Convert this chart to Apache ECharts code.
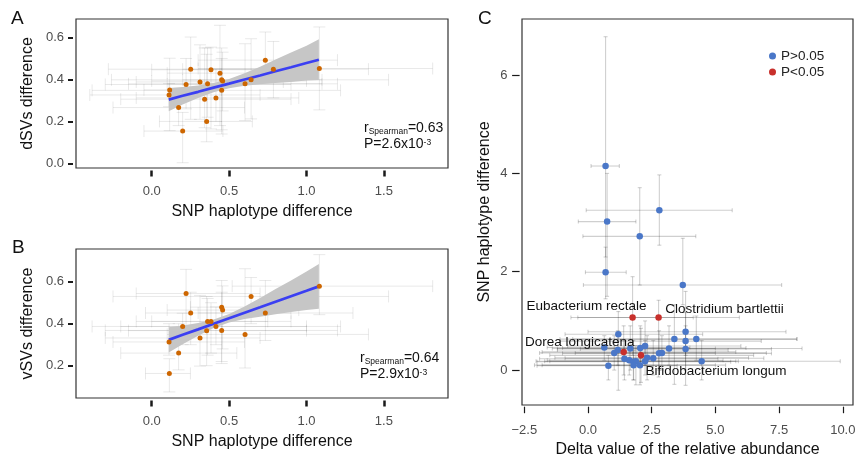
<!DOCTYPE html>
<html>
<head>
<meta charset="utf-8">
<script src="https://cdn.jsdelivr.net/npm/echarts@6.0.0/dist/echarts.min.js"></script>
<style>
html,body{margin:0;padding:0;background:#fff;}
#chart{width:855px;height:456px;}
</style>
</head>
<body>
<div id="chart"></div>
<script>
// ---------------- DATA ----------------
// Panel A : SNP haplotype difference vs dSVs difference
const aX    = [0.116,0.112,0.174,0.200,0.222,0.252,0.312,0.342,0.355,0.361,0.383,0.415,0.441,0.452,0.458,0.452,0.603,0.642,0.734,0.786,1.083];
const aY    = [0.350,0.326,0.266,0.154,0.376,0.449,0.388,0.306,0.200,0.379,0.446,0.312,0.430,0.398,0.393,0.348,0.379,0.398,0.492,0.449,0.452];
const aXLo  = [-0.05,-0.40,-0.25,-0.05,-0.30,-0.28,-0.10,-0.20,0.05,-0.15,0.00,-0.10,0.10,-0.26,0.00,-0.385,0.10,0.20,0.30,0.20,0.30];
const aXHi  = [0.45,0.70,0.60,0.46,0.90,0.75,0.85,0.90,0.65,1.10,0.85,0.95,0.80,1.53,1.00,1.22,1.20,1.10,1.20,1.40,1.815];
const aYLo  = [0.156,0.27,0.18,0.003,0.26,0.21,0.21,0.17,0.103,0.22,0.164,0.20,0.18,0.14,0.25,0.16,0.204,0.212,0.419,0.312,0.255];
const aYHi  = [0.501,0.38,0.35,0.243,0.50,0.602,0.565,0.55,0.52,0.55,0.554,0.45,0.658,0.55,0.53,0.50,0.57,0.594,0.626,0.581,0.650];
// Panel A fitted line and confidence band
const aFitX  = [0.11,0.2,0.3,0.4,0.5,0.6,0.7,0.8,0.9,1.0,1.08];
const aFitY  = [0.304,0.322,0.341,0.361,0.380,0.400,0.419,0.439,0.458,0.478,0.494];
const aBandLo= [0.249,0.280,0.311,0.339,0.358,0.370,0.377,0.383,0.388,0.395,0.397];
const aBandHi= [0.359,0.364,0.371,0.383,0.402,0.430,0.461,0.495,0.528,0.561,0.591];

// Panel B : SNP haplotype difference vs vSVs difference
const bX    = [0.112,0.114,0.174,0.200,0.222,0.252,0.312,0.355,0.361,0.383,0.415,0.452,0.458,0.452,0.603,0.642,0.734,1.083];
const bY    = [0.313,0.163,0.260,0.387,0.544,0.451,0.332,0.367,0.411,0.411,0.387,0.479,0.465,0.368,0.349,0.530,0.451,0.579];
const bXLo  = [-0.25,-0.04,-0.20,-0.385,-0.10,-0.04,-0.30,-0.15,-0.10,0.00,-0.20,0.25,0.10,-0.30,0.10,-0.25,0.30,0.52];
const bXHi  = [0.60,0.25,0.55,1.22,0.70,0.90,0.70,1.00,0.75,0.90,1.00,0.80,0.95,1.20,1.40,1.53,1.30,1.815];
const bYLo  = [0.25,0.075,0.18,0.30,0.352,0.30,0.198,0.20,0.25,0.26,0.30,0.21,0.28,0.22,0.189,0.40,0.32,0.443];
const bYHi  = [0.40,0.233,0.40,0.45,0.659,0.55,0.535,0.53,0.52,0.50,0.48,0.606,0.58,0.55,0.662,0.62,0.606,0.729];
const bFitX  = [0.11,0.2,0.3,0.4,0.5,0.6,0.7,0.8,0.9,1.0,1.08];
const bFitY  = [0.323,0.347,0.373,0.400,0.426,0.452,0.478,0.505,0.531,0.557,0.578];
const bBandLo= [0.263,0.302,0.343,0.380,0.406,0.422,0.433,0.445,0.456,0.465,0.471];
const bBandHi= [0.383,0.392,0.403,0.420,0.446,0.482,0.523,0.565,0.606,0.649,0.685];

// Panel C : delta relative abundance vs SNP haplotype difference
const cX   = [0.69,2.80,0.75,2.03,0.69,3.72, 1.75,2.77,1.40,2.08, 1.19,0.64,1.03,1.17,1.66,2.05,2.24,1.43,1.62,1.78,1.88,1.79,2.04,2.24,2.32,2.56,2.79,2.90,3.18,3.39,3.83,3.83,3.83,4.25,4.46,0.80];
const cY   = [4.15,3.25,3.02,2.72,1.99,1.73, 1.07,1.07,0.37,0.30, 0.73,0.46,0.35,0.41,0.44,0.45,0.49,0.23,0.20,0.17,0.18,0.10,0.10,0.18,0.25,0.24,0.34,0.35,0.44,0.63,0.78,0.59,0.43,0.63,0.18,0.09];
const cXLo = [0.12,-0.07,-0.38,-0.20,-0.10,-0.18, -0.67,-0.40,-1.80,-1.50, -0.90,-1.60,-1.90,-1.20,-1.40,-1.00,-0.80,-1.90,-1.60,-2.00,-1.70,-2.10,-1.80,-1.50,-1.30,-0.90,-1.00,-0.50,-1.20,-0.60,0.00,-1.10,-0.30,-1.10,-2.04,-2.00];
const cXHi = [1.23,5.66,1.88,4.23,1.50,7.60, 4.13,5.94,5.80,6.50, 4.50,4.00,5.00,5.50,5.00,6.20,6.00,5.10,5.30,5.60,5.80,5.40,5.00,5.90,6.30,6.90,7.20,7.00,8.40,8.20,7.77,6.80,7.20,8.20,9.90,3.50];
const cYLo = [2.30,2.54,1.50,1.73,1.45,1.33, 0.30,-0.14,-0.10,-0.25, -0.41,0.20,0.00,0.10,0.00,0.10,0.10,-0.20,-0.10,-0.20,-0.30,-0.20,-0.30,-0.10,-0.20,-0.10,0.00,0.00,0.10,-0.29,0.30,-0.31,0.00,0.20,-0.20,-0.20];
const cYHi = [6.78,3.97,4.00,3.71,2.50,2.68, 1.90,1.42,0.90,0.85, 1.19,0.70,0.70,0.80,0.90,0.90,1.00,0.60,0.50,0.60,0.50,0.40,0.40,0.60,0.70,0.60,0.80,0.70,0.90,1.33,1.60,1.17,0.90,1.10,0.60,0.30];
const cSig = [0,0,0,0,0,0, 1,1,1,1, 0,0,0,0,0,0,0,0,0,0,0,0,0,0,0,0,0,0,0,0,0,0,0,0,0,0];
const cName= ['','','','','','', 'Eubacterium rectale','Clostridium bartlettii','Dorea longicatena','Bifidobacterium longum', '','','','','','','','','','','','','','','','','','','','','','','','','',''];

// Tick values
const abXTicks = [0, 0.5, 1.0, 1.5];
const aYTicks  = [0, 0.2, 0.4, 0.6];
const bYTicks  = [0.2, 0.4, 0.6];
const cXTicks  = [-2.5, 0, 2.5, 5, 7.5, 10];
const cYTicks  = [0, 2, 4, 6];

// Annotations
const aStats = {r: '0.63', p: '2.6x10', e: '-3'};
const bStats = {r: '0.64', p: '2.9x10', e: '-3'};

// ---------------- STYLE ----------------
const FONT = "'Liberation Sans', Arial, Helvetica, sans-serif";
const labelOffsets = {'Eubacterium rectale':[-46,-11],'Clostridium bartlettii':[66,-8],'Dorea longicatena':[-44,-10],'Bifidobacterium longum':[75,16]};

function errRender(capHalf, color, width) {
  return function (params, api) {
    const x = api.value(0), y = api.value(1);
    const pL = api.coord([api.value(2), y]), pR = api.coord([api.value(3), y]);
    const pB = api.coord([x, api.value(4)]), pT = api.coord([x, api.value(5)]);
    const st = {stroke: color, lineWidth: width, fill: null};
    const L = (x1,y1,x2,y2) => ({type:'line', shape:{x1,y1,x2,y2}, style:st});
    return {type:'group', children:[
      L(pL[0],pL[1],pR[0],pR[1]),
      L(pL[0],pL[1]-capHalf,pL[0],pL[1]+capHalf),
      L(pR[0],pR[1]-capHalf,pR[0],pR[1]+capHalf),
      L(pB[0],pB[1],pT[0],pT[1]),
      L(pB[0]-capHalf,pB[1],pB[0]+capHalf,pB[1]),
      L(pT[0]-capHalf,pT[1],pT[0]+capHalf,pT[1])
    ]};
  };
}
function errSeries(idx, xs, ys, xlo, xhi, ylo, yhi, cap, color, w) {
  return {type:'custom', xAxisIndex:idx, yAxisIndex:idx, clip:true, silent:true, z:1,
    data: xs.map((x,i)=>[x, ys[i], xlo[i], xhi[i], ylo[i], yhi[i]]),
    encode:{x:[0,2,3], y:[1,4,5]},
    renderItem: errRender(cap, color, w)};
}
function bandSeries(idx, xs, lo, hi) {
  return {type:'custom', xAxisIndex:idx, yAxisIndex:idx, clip:true, silent:true, z:2,
    data: xs.map((x,i)=>[x, lo[i], hi[i]]),
    encode:{x:0, y:[1,2]},
    renderItem: function(params, api){
      if (params.dataIndex !== 0) return null;
      const pts = [];
      for (let i=0;i<xs.length;i++) pts.push(api.coord([xs[i], hi[i]]));
      for (let i=xs.length-1;i>=0;i--) pts.push(api.coord([xs[i], lo[i]]));
      return {type:'polygon', shape:{points:pts}, style:{fill:'#c6c6c6'}};
    }};
}
function xAx(idx, min, max, ticks, fmt, o) {
  return {type:'value', gridIndex:idx, min, max, offset:o.offset,
    axisLine:{show:false, onZero:false},
    axisTick:{show:true, customValues:ticks, length:o.tickLen, lineStyle:{color:'#1a1a1a', width:o.tickW}},
    axisLabel:{customValues:ticks, formatter:fmt, fontSize:13, color:'#4d4d4d', margin:o.margin, fontFamily:FONT},
    splitLine:{show:false},
    name:o.name, nameLocation:'middle', nameGap:o.nameGap, nameRotate:o.rot||0,
    nameTextStyle:{fontSize:16, color:'#111', fontFamily:FONT}};
}
const f1 = v => v.toFixed(1);
const fC = v => (v < 0 ? '\u2212' + Math.abs(v).toFixed(1) : v.toFixed(1));
const fI = v => String(Math.round(v));

const chart = echarts.init(document.getElementById('chart'), null, {renderer:'canvas'});

function statText(st) {
  return '{r|r}{s|Spearman}{r|=' + st.r + '}\n{r|P=' + st.p + '}{p|' + st.e + '}';
}
const statRich = {
  r:{fontSize:14, lineHeight:16, verticalAlign:'middle', fontFamily:FONT, fill:'#111'},
  s:{fontSize:8.5, lineHeight:7, verticalAlign:'bottom', fontFamily:FONT, fill:'#111'},
  p:{fontSize:8.5, lineHeight:9, padding:[2,0,0,0], verticalAlign:'top', fontFamily:FONT, fill:'#111'}
};

const sigIdx = cX.map((_,i)=>i).filter(i=>cSig[i]===1);
const nsIdx  = cX.map((_,i)=>i).filter(i=>cSig[i]===0);

const option = {
  animation:false,
  textStyle:{fontFamily:FONT},
  grid:[
    {left:76, top:19, width:372, height:149, show:true, borderColor:'#333', borderWidth:1.2, outerBoundsMode:'none', containLabel:false},
    {left:76, top:249, width:372, height:149, show:true, borderColor:'#333', borderWidth:1.2, outerBoundsMode:'none', containLabel:false},
    {left:522, top:19, width:331, height:386, show:true, borderColor:'#333', borderWidth:1.2, outerBoundsMode:'none', containLabel:false}
  ],
  xAxis:[
    xAx(0, -0.489, 1.914, abXTicks, f1, {offset:2.5, tickLen:6, tickW:2.5, margin:14, name:'SNP haplotype difference', nameGap:33}),
    xAx(1, -0.489, 1.914, abXTicks, f1, {offset:2.5, tickLen:6, tickW:2.5, margin:14, name:'SNP haplotype difference', nameGap:33}),
    xAx(2, -2.59, 10.4, cXTicks, fC, {offset:1.7, tickLen:6.5, tickW:1.2, margin:17, name:'Delta value of the relative abundance', nameGap:32})
  ],
  yAxis:[
    xAx(0, -0.022, 0.688, aYTicks, f1, {offset:3, tickLen:5, tickW:2, margin:9, name:'dSVs difference', nameGap:37, rot:90}),
    xAx(1, 0.046, 0.756, bYTicks, f1, {offset:3, tickLen:5, tickW:2, margin:9, name:'vSVs difference', nameGap:37, rot:90}),
    xAx(2, -0.71, 7.14, cYTicks, fI, {offset:2.4, tickLen:7.5, tickW:1.2, margin:12, name:'SNP haplotype difference', nameGap:27, rot:90})
  ],
  legend:{data:['P>0.05','P<0.05'], orient:'vertical', left:764, top:44, itemWidth:7, itemHeight:7, itemGap:2,
    icon:'circle', selectedMode:false, textStyle:{fontSize:13.5, color:'#222', fontFamily:FONT}},
  graphic:[
    {type:'text', left:11, top:9, style:{text:'A', fontSize:19, fill:'#111', fontFamily:FONT}},
    {type:'text', left:12, top:238, style:{text:'B', fontSize:19, fill:'#111', fontFamily:FONT}},
    {type:'text', left:478, top:9, style:{text:'C', fontSize:19, fill:'#111', fontFamily:FONT}},
    {type:'text', left:364, top:121, style:{text:statText(aStats), rich:statRich}},
    {type:'text', left:360, top:351, style:{text:statText(bStats), rich:statRich}}
  ],
  series:[
    errSeries(0, aX, aY, aXLo, aXHi, aYLo, aYHi, 6, 'rgba(0,0,0,0.09)', 1),
    bandSeries(0, aFitX, aBandLo, aBandHi),
    {type:'line', xAxisIndex:0, yAxisIndex:0, data:aFitX.map((x,i)=>[x,aFitY[i]]), showSymbol:false, symbol:'none',
      lineStyle:{color:'#3b3ff2', width:2.7}, z:3, silent:true},
    {type:'scatter', xAxisIndex:0, yAxisIndex:0, data:aX.map((x,i)=>[x,aY[i]]), symbolSize:5,
      itemStyle:{color:'#CD6600', opacity:1}, z:4, silent:true},

    errSeries(1, bX, bY, bXLo, bXHi, bYLo, bYHi, 6, 'rgba(0,0,0,0.09)', 1),
    bandSeries(1, bFitX, bBandLo, bBandHi),
    {type:'line', xAxisIndex:1, yAxisIndex:1, data:bFitX.map((x,i)=>[x,bFitY[i]]), showSymbol:false, symbol:'none',
      lineStyle:{color:'#3b3ff2', width:2.7}, z:3, silent:true},
    {type:'scatter', xAxisIndex:1, yAxisIndex:1, data:bX.map((x,i)=>[x,bY[i]]), symbolSize:5,
      itemStyle:{color:'#CD6600', opacity:1}, z:4, silent:true},

    errSeries(2, cX, cY, cXLo, cXHi, cYLo, cYHi, 2, 'rgba(0,0,0,0.19)', 1.1),
    {type:'scatter', name:'P>0.05', xAxisIndex:2, yAxisIndex:2, data:nsIdx.map(i=>[cX[i],cY[i]]), symbolSize:6.5,
      itemStyle:{color:'#4a77c8', opacity:1}, z:4, silent:true},
    {type:'scatter', name:'P<0.05', xAxisIndex:2, yAxisIndex:2, symbolSize:6.5,
      data:sigIdx.map(i=>({value:[cX[i],cY[i]], name:cName[i], label:{offset:labelOffsets[cName[i]]}})),
      itemStyle:{color:'#c8302c', opacity:1}, z:5, silent:true,
      label:{show:true, position:'inside', formatter:p=>p.name, fontSize:13.5, color:'#111', fontFamily:FONT}}
  ]
};
chart.setOption(option);
</script>
</body>
</html>
